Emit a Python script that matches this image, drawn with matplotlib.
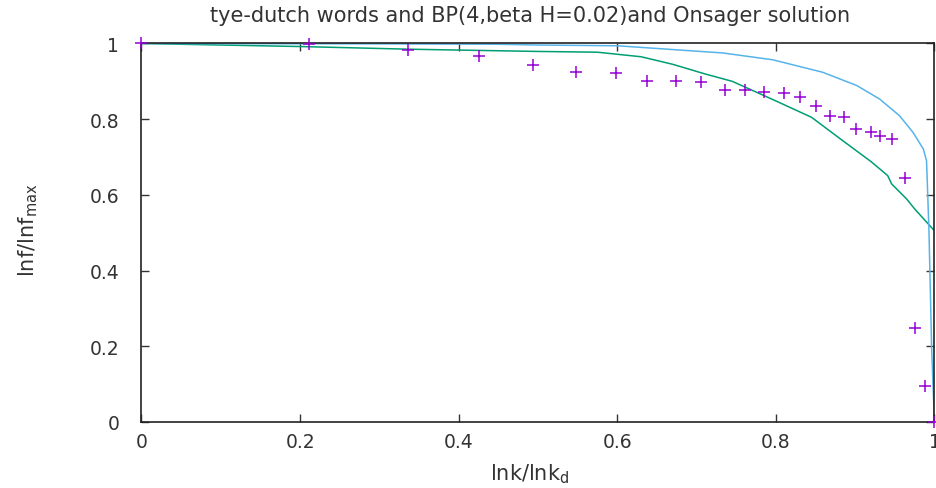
import matplotlib
matplotlib.use("Agg")
import matplotlib.pyplot as plt

# Measured word data (points)
words_x = [0.0, 0.211, 0.336, 0.426, 0.494, 0.548, 0.598, 0.637, 0.674, 0.705,
           0.736, 0.761, 0.785, 0.810, 0.831, 0.850, 0.868, 0.886, 0.901, 0.920,
           0.931, 0.947, 0.963, 0.975, 0.988, 1.0]
words_y = [1.0, 0.998, 0.984, 0.968, 0.943, 0.924, 0.922, 0.901, 0.901, 0.899,
           0.878, 0.878, 0.873, 0.869, 0.859, 0.834, 0.808, 0.805, 0.774, 0.765,
           0.756, 0.748, 0.645, 0.248, 0.096, 0.0]

# BP(4, beta H=0.02) curve
bp_x = [0.0, 0.2, 0.336, 0.5, 0.575, 0.63, 0.67, 0.71, 0.745, 0.795, 0.845,
        0.88, 0.92, 0.941, 0.946, 0.965, 0.975, 0.994, 1.0]
bp_y = [1.0, 0.992, 0.985, 0.979, 0.977, 0.965, 0.945, 0.92, 0.90, 0.853, 0.805,
        0.75, 0.688, 0.651, 0.629, 0.589, 0.563, 0.519, 0.505]

# Onsager solution curve
ons_x = [0.0, 0.3, 0.45, 0.5, 0.6, 0.67, 0.733, 0.796, 0.859, 0.902, 0.931,
         0.956, 0.973, 0.986, 0.990, 0.993, 0.9965, 1.0]
ons_y = [1.0, 0.999, 0.998, 0.996, 0.994, 0.984, 0.975, 0.957, 0.924, 0.889,
         0.853, 0.809, 0.765, 0.721, 0.690, 0.51, 0.19, 0.0]

x_ticks = [0, 0.2, 0.4, 0.6, 0.8, 1]
y_ticks = [0, 0.2, 0.4, 0.6, 0.8, 1]
x_tick_labels = ["0", "0.2", "0.4", "0.6", "0.8", "1"]
y_tick_labels = ["0", "0.2", "0.4", "0.6", "0.8", "1"]

plt.rcParams['font.family'] = ['DejaVu Sans']
text_color = '#333333'

fig = plt.figure(figsize=(9.37, 4.89), dpi=100)
ax = fig.add_axes([0.151, 0.135, 0.8463, 0.774])

ax.plot(words_x, words_y, linestyle='none', marker='+', markersize=8,
        markeredgewidth=1.1, color='#9400d3', clip_on=False, zorder=3)
ax.plot(bp_x, bp_y, color='#009e73', linewidth=1.1, zorder=2)
ax.plot(ons_x, ons_y, color='#56b4e9', linewidth=1.1, zorder=2)

ax.set_xlim(0, 1)
ax.set_ylim(0, 1)
ax.set_xticks(x_ticks)
ax.set_xticklabels(x_tick_labels)
ax.set_yticks(y_ticks)
ax.set_yticklabels(y_tick_labels)
ax.tick_params(direction='in', length=6, width=1, top=True, right=True,
               labelsize=13.5, colors=text_color)
ax.tick_params(axis='x', pad=7)
ax.tick_params(axis='y', pad=16)
for s in ax.spines.values():
    s.set_linewidth(1.2)
    s.set_color('#222222')

ax.set_xlabel(r'lnk/lnk$_{\rm d}$', fontsize=15, color=text_color)
ax.xaxis.set_label_coords(0.49, -0.105)
ax.xaxis.label.set_va('top')
ax.set_ylabel(r'lnf/lnf$_{\rm max}$', fontsize=15, color=text_color)
ax.yaxis.set_label_coords(-0.128, 0.51)
ax.set_title('tye-dutch words and BP(4,beta H=0.02)and Onsager solution',
             fontsize=15, color=text_color, pad=16, x=0.49)

fig.savefig('out.png', dpi=100)
